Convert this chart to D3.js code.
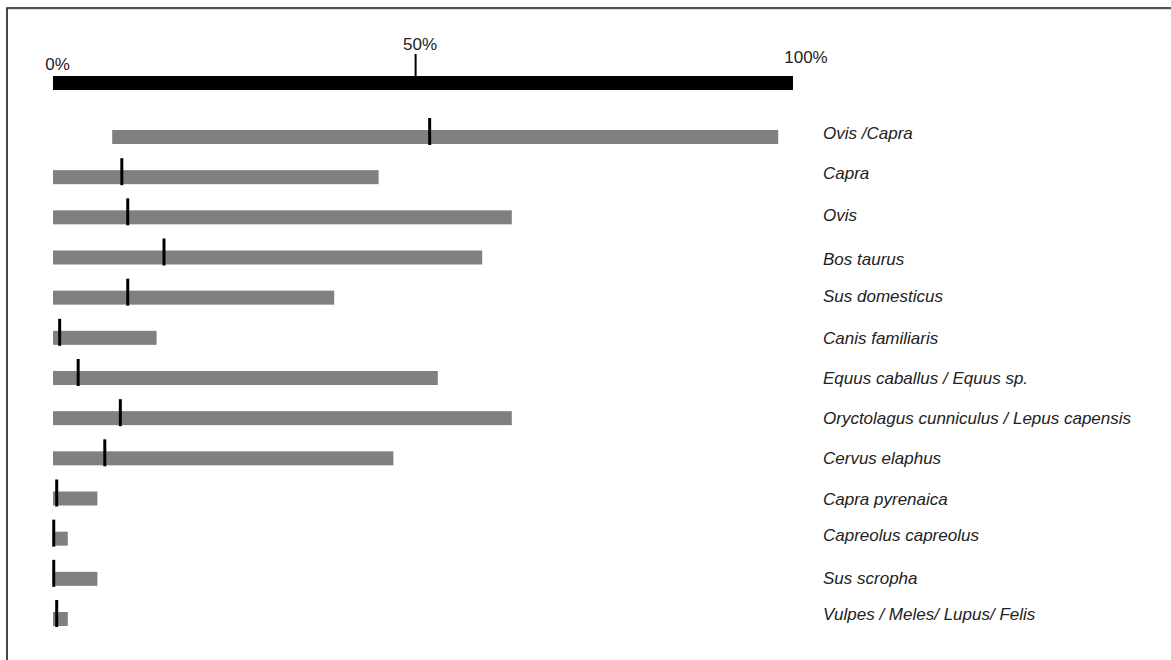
<!DOCTYPE html>
<html>
<head>
<meta charset="utf-8">
<script src="https://cdn.jsdelivr.net/npm/d3@7"></script>
<style>
  html, body { margin: 0; padding: 0; background: #fff; }
  svg { display: block; }
</style>
</head>
<body>
<div id="chart"></div>
<script>
// ---- data ----
const categories = [
  "Ovis /Capra",
  "Capra",
  "Ovis",
  "Bos taurus",
  "Sus domesticus",
  "Canis familiaris",
  "Equus caballus / Equus sp.",
  "Oryctolagus cunniculus / Lepus capensis",
  "Cervus elaphus",
  "Capra pyrenaica",
  "Capreolus capreolus",
  "Sus scropha",
  "Vulpes / Meles/ Lupus/ Felis"
];
const rangeMin = [8, 0, 0, 0, 0, 0, 0, 0, 0, 0, 0, 0, 0];
const rangeMax = [98, 44, 62, 58, 38, 14, 52, 62, 46, 6, 2, 6, 2];
const markValue = [50.9, 9.3, 10.1, 15.0, 10.1, 0.9, 3.4, 9.1, 7.0, 0.5, 0.1, 0.1, 0.5];
const axisTickLabels = ["0%", "50%", "100%"];
const axisTickValues = [0, 50, 100];
const axisMarkValues = [49];

// ---- layout ----
const W = 1171, H = 660;
const xLeft = 53, xRight = 793;
const labelX = 823;
const barH = 14;
const fontFam = "'Liberation Sans', Arial, Helvetica, sans-serif";
const labelNudge = [2, 2, 4, 7, 4, 6, 6, 6, 6, 6, 2, 5, 1];

const svg = d3.select("#chart").append("svg")
  .attr("width", W).attr("height", H);

// frame (top and left edges visible)
svg.append("path")
  .attr("d", d3.line()([[7, H], [7, 8], [W, 8]]))
  .attr("fill", "none").attr("stroke", "#1a1a1a").attr("stroke-width", 1.6);
svg.append("line")
  .attr("x1", 8).attr("x2", W).attr("y1", 9.6).attr("y2", 9.6)
  .attr("stroke", "#ddd").attr("stroke-width", 1);

const x = d3.scaleLinear().domain([0, 100]).range([xLeft, xRight]);
const y = d3.scalePoint().domain(categories).range([137, 619]);

// top scale bar
svg.append("rect")
  .attr("x", x(0)).attr("y", 76)
  .attr("width", x(100) - x(0)).attr("height", 14)
  .attr("fill", "#000");

svg.selectAll("line.axmark").data(axisMarkValues).join("line")
  .attr("class", "axmark")
  .attr("x1", d => x(d)).attr("x2", d => x(d))
  .attr("y1", 54).attr("y2", 77)
  .attr("stroke", "#000").attr("stroke-width", 2);

const labelDx = [4.5, -3, 13];
const labelBase = [70, 50, 63];
svg.selectAll("text.axlab").data(axisTickValues).join("text")
  .attr("class", "axlab")
  .attr("x", (d, i) => x(d) + labelDx[i])
  .attr("y", (d, i) => labelBase[i])
  .attr("text-anchor", "middle")
  .attr("font-family", fontFam)
  .attr("font-size", 17)
  .attr("fill", "#222")
  .text((d, i) => axisTickLabels[i]);

// rows
const rows = categories.map((c, i) => ({
  cat: c, lo: rangeMin[i], hi: rangeMax[i], mark: markValue[i], nudge: labelNudge[i]
}));

svg.selectAll("rect.range").data(rows).join("rect")
  .attr("class", "range")
  .attr("x", d => x(d.lo))
  .attr("y", d => y(d.cat) - barH / 2)
  .attr("width", d => x(d.hi) - x(d.lo))
  .attr("height", barH)
  .attr("fill", "#808080");

svg.selectAll("line.mark").data(rows).join("line")
  .attr("class", "mark")
  .attr("x1", d => x(d.mark)).attr("x2", d => x(d.mark))
  .attr("y1", d => y(d.cat) - 19)
  .attr("y2", d => y(d.cat) + 8)
  .attr("stroke", "#000").attr("stroke-width", 3);

svg.selectAll("text.cat").data(rows).join("text")
  .attr("class", "cat")
  .attr("x", labelX)
  .attr("y", d => y(d.cat) + d.nudge)
  .attr("font-family", fontFam)
  .attr("font-style", "italic")
  .attr("font-size", 17)
  .attr("fill", "#222")
  .text(d => d.cat);
</script>
</body>
</html>
